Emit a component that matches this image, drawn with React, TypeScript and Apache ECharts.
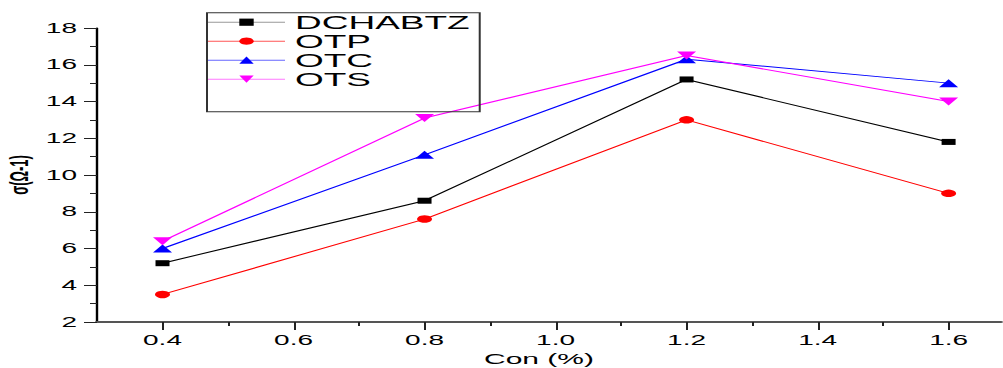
import React, { useEffect, useRef } from "react";
import * as echarts from "echarts";

const xValues = [0.4, 0.8, 1.2, 1.6];
const dchabtz = [5.2, 8.6, 15.2, 11.8];
const otp = [3.5, 7.6, 13.0, 9.0];
const otc = [6.0, 11.1, 16.3, 15.0];
const ots = [6.4, 13.1, 16.5, 14.0];
const majorXTicks = [0.4, 0.6, 0.8, 1.0, 1.2, 1.4, 1.6];
const minorXTicks = [0.5, 0.7, 0.9, 1.1, 1.3, 1.5];

const STRETCH = 2;
const PAGE_W = 1003;
const PAGE_H = 368;
const W = PAGE_W / STRETCH;
const FONT = "'Liberation Sans', Arial, Helvetica, sans-serif";

const pairs = (ys: number[]) => ys.map((y, i) => [xValues[i], y]);

export default function App() {
  const ref = useRef<HTMLDivElement>(null);
  useEffect(() => {
    if (!ref.current) return;
    const chart = echarts.init(ref.current, undefined, {
      renderer: "svg",
      width: W,
      height: PAGE_H,
    });
    const mk = (
      name: string,
      ys: number[],
      color: string,
      symbol: string,
      size: number | number[],
      rotate = 0
    ) => ({
      name,
      type: "line",
      data: pairs(ys),
      xAxisIndex: 0,
      symbol,
      symbolSize: size,
      symbolRotate: rotate,
      showSymbol: true,
      lineStyle: { color, width: 1 },
      itemStyle: { color, borderWidth: 0 },
      emphasis: { disabled: true },
    });
    chart.setOption({
      animation: false,
      textStyle: { fontFamily: FONT },
      grid: {
        left: 48.5,
        right: 1,
        top: 28,
        bottom: 46,
        containLabel: false,
        outerBoundsMode: "none",
      },
      legend: {
        orient: "vertical",
        left: 103.5,
        top: 12.7,
        itemWidth: 38.5,
        itemHeight: 9,
        itemGap: 0,
        padding: [0, 5, 23, 0],
        borderColor: "#333",
        borderWidth: 1,
        selectedMode: false,
        textStyle: { fontSize: 18.5, lineHeight: 18.3, color: "#000", fontFamily: FONT },
        data: [
          { name: "DCHABTZ", lineStyle: { color: "#999", width: 1 } },
          { name: "OTP", lineStyle: { color: "#f55", width: 1 } },
          { name: "OTC", lineStyle: { color: "#66f", width: 1 } },
          { name: "OTS", lineStyle: { color: "#f7f", width: 1 } },
        ],
      },
      xAxis: [
        {
          type: "value",
          min: 0.3,
          max: 1.68,
          position: "bottom",
          name: "Con (%)",
          nameLocation: "middle",
          nameGap: 29,
          nameMoveOverlap: false,
          nameTextStyle: {
            fontSize: 15,
            color: "#000",
            fontFamily: FONT,
            padding: [0, 10, 0, 0],
          },
          axisLine: { show: true, lineStyle: { color: "#555", width: 2 } },
          axisTick: {
            show: true,
            inside: false,
            length: 8,
            customValues: majorXTicks,
            lineStyle: { color: "#222", width: 1 },
          },
          axisLabel: {
            customValues: majorXTicks,
            margin: 11,
            fontSize: 14,
            color: "#000",
            fontFamily: FONT,
            formatter: (v: number) => v.toFixed(1),
          },
          splitLine: { show: false },
        },
        {
          type: "value",
          min: 0.3,
          max: 1.68,
          position: "bottom",
          axisLine: { show: false },
          axisTick: {
            show: true,
            inside: false,
            length: 4,
            customValues: minorXTicks,
            lineStyle: { color: "#222", width: 1 },
          },
          axisLabel: { show: false },
          splitLine: { show: false },
        },
      ],
      yAxis: {
        type: "value",
        min: 2,
        max: 18,
        interval: 2,
        name: "σ(Ω-1)",
        nameLocation: "middle",
        nameGap: 33,
        nameMoveOverlap: false,
        nameTextStyle: { fontSize: 13, fontWeight: "bold", color: "#000", fontFamily: FONT },
        axisLine: { show: true, lineStyle: { color: "#000", width: 1.2 } },
        axisTick: { show: true, inside: false, length: 6.5, lineStyle: { color: "#222", width: 1 } },
        minorTick: { show: true, splitNumber: 2, length: 3.5, lineStyle: { color: "#222", width: 1 } },
        axisLabel: { margin: 10, fontSize: 14, color: "#000", fontFamily: FONT },
        splitLine: { show: false },
      },
      series: [
        mk("DCHABTZ", dchabtz, "#000", "rect", [7, 6]),
        mk("OTP", otp, "#ff0000", "circle", 7.5),
        mk("OTC", otc, "#0000ff", "triangle", [9.5, 8]),
        mk("OTS", ots, "#ff00ff", "triangle", [9.5, 8], 180),
      ],
    });
    return () => chart.dispose();
  }, []);
  return (
    <div
      ref={ref}
      style={{
        position: "fixed",
        left: 0,
        top: 0,
        width: W,
        height: PAGE_H,
        transform: `scaleX(${STRETCH})`,
        transformOrigin: "0 0",
        background: "#fff",
      }}
    />
  );
}
